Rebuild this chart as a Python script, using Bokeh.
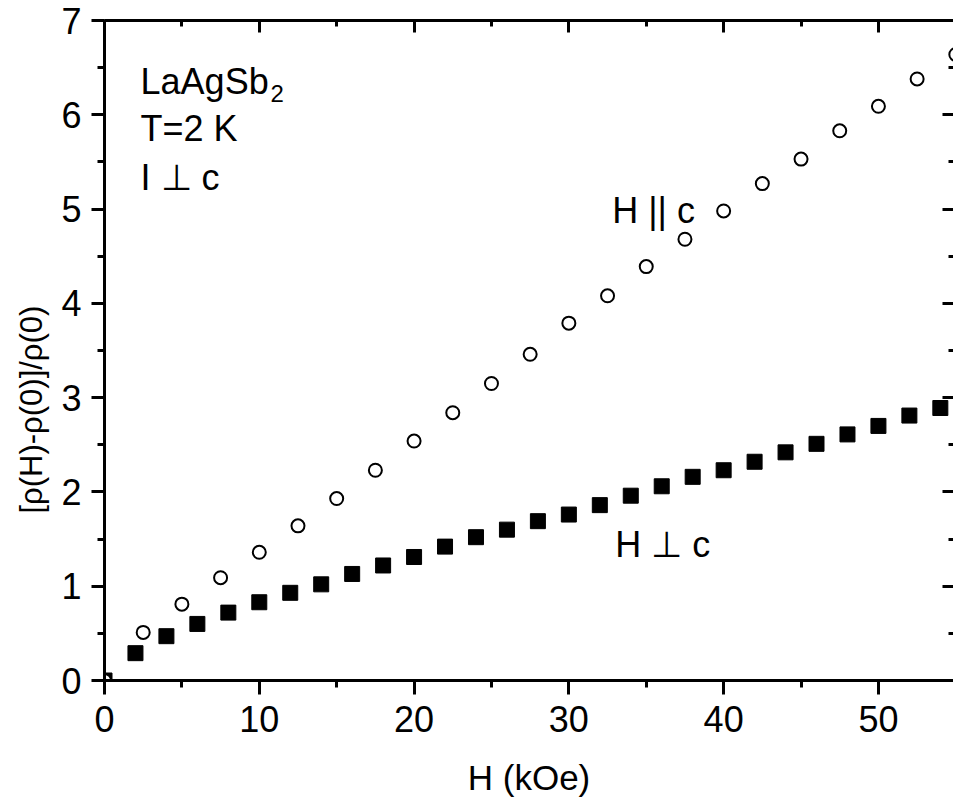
from bokeh.plotting import figure
from bokeh.models import Range1d, LinearAxis, SingleIntervalTicker, Label, Title
from bokeh.embed import file_html
from bokeh.resources import INLINE

# Magnetoresistance of LaAgSb2 at T = 2 K, current in the ab plane
h_par = [0, 2.5, 5, 7.5, 10, 12.5, 15, 17.5, 20, 22.5, 25, 27.5, 30, 32.5,
         35, 37.5, 40, 42.5, 45, 47.5, 50, 52.5, 55]
mr_par = [0.0, 0.51, 0.81, 1.09, 1.36, 1.64, 1.93, 2.23, 2.54, 2.84, 3.15,
          3.46, 3.79, 4.08, 4.39, 4.68, 4.98, 5.27, 5.53, 5.83, 6.09, 6.38, 6.64]

h_perp = [0, 2, 4, 6, 8, 10, 12, 14, 16, 18, 20, 22, 24, 26, 28, 30, 32, 34,
          36, 38, 40, 42, 44, 46, 48, 50, 52, 54]
mr_perp = [0.0, 0.29, 0.47, 0.60, 0.72, 0.83, 0.93, 1.02, 1.13, 1.22, 1.31,
           1.42, 1.52, 1.60, 1.69, 1.76, 1.86, 1.96, 2.06, 2.16, 2.23, 2.32,
           2.42, 2.51, 2.61, 2.70, 2.81, 2.89]

x_label = "H (kOe)"
y_label = "[ρ(H)-ρ(0)]/ρ(0)"

FONT = "Liberation Sans"

p = figure(width=953, height=799,
           x_range=Range1d(0, 54.85), y_range=Range1d(0, 7),
           x_axis_type=None, y_axis_type=None,
           output_backend="svg", toolbar_location=None,
           min_border_left=104, min_border_right=0,
           min_border_top=20, min_border_bottom=119)
p.outline_line_color = None
p.background_fill_color = "white"
p.border_fill_color = "white"
p.grid.visible = False


def styled_axis(interval, tick_in, tick_out, minor_in, minor_out, labels=True, line=True):
    ax = LinearAxis(ticker=SingleIntervalTicker(interval=interval, num_minor_ticks=2))
    ax.axis_line_width = 3
    ax.axis_line_color = "black" if line else None
    ax.major_tick_line_width = 3
    ax.minor_tick_line_width = 3
    ax.major_tick_line_color = "black"
    ax.minor_tick_line_color = "black"
    ax.major_tick_in = tick_in
    ax.major_tick_out = tick_out
    ax.minor_tick_in = minor_in
    ax.minor_tick_out = minor_out
    ax.major_label_text_font = FONT
    if labels:
        ax.major_label_text_font_size = "36px"
        ax.major_label_text_color = "black"
    else:
        ax.major_label_text_font_size = "0px"
        ax.major_label_text_color = None
        ax.major_label_standoff = 0
    return ax


bottom = styled_axis(10, 0, 14, 0, 7)
bottom.major_label_standoff = 11
bottom.axis_label = x_label
bottom.axis_label_text_font = FONT
bottom.axis_label_text_font_size = "35px"
bottom.axis_label_text_font_style = "normal"
bottom.axis_label_text_color = "black"
bottom.axis_label_standoff = 23
p.add_layout(bottom, "below")

left = styled_axis(1, 0, 13, 0, 7)
left.major_label_standoff = 10
p.add_layout(left, "left")

# vertical axis title, set in the left margin beyond the tick labels
p.add_layout(Title(text=y_label, align="left", offset=167, standoff=20,
                   text_font=FONT, text_font_size="31px",
                   text_font_style="normal", text_color="black"), "left")

top = styled_axis(10, 12, 0, 6, 0, labels=False)
p.add_layout(top, "above")

right = styled_axis(1, 11, 0, 5, 0, labels=False, line=False)
p.add_layout(right, "right")

# data
p.scatter(h_perp, mr_perp, marker="square", size=15,
          fill_color="black", line_color="black", line_width=1)
p.scatter(h_par, mr_par, marker="circle", size=13,
          fill_color="white", line_color="black", line_width=2)


def text(x, y, s, size="36px", **kw):
    p.add_layout(Label(x=x, y=y, text=s, text_font=FONT, text_font_size=size,
                       text_color="black", text_baseline="alphabetic",
                       text_align="left", **kw))


text(2.33, 6.355, "LaAgSb")
text(10.72, 6.225, "2", size="24px")
text(2.33, 5.854, "T=2 K")
text(2.33, 5.334, "I ⊥ c")
text(32.8, 4.984, "H || c")
text(33.0, 1.442, "H ⊥ c")

open("out.html", "w").write(file_html(p, INLINE))
